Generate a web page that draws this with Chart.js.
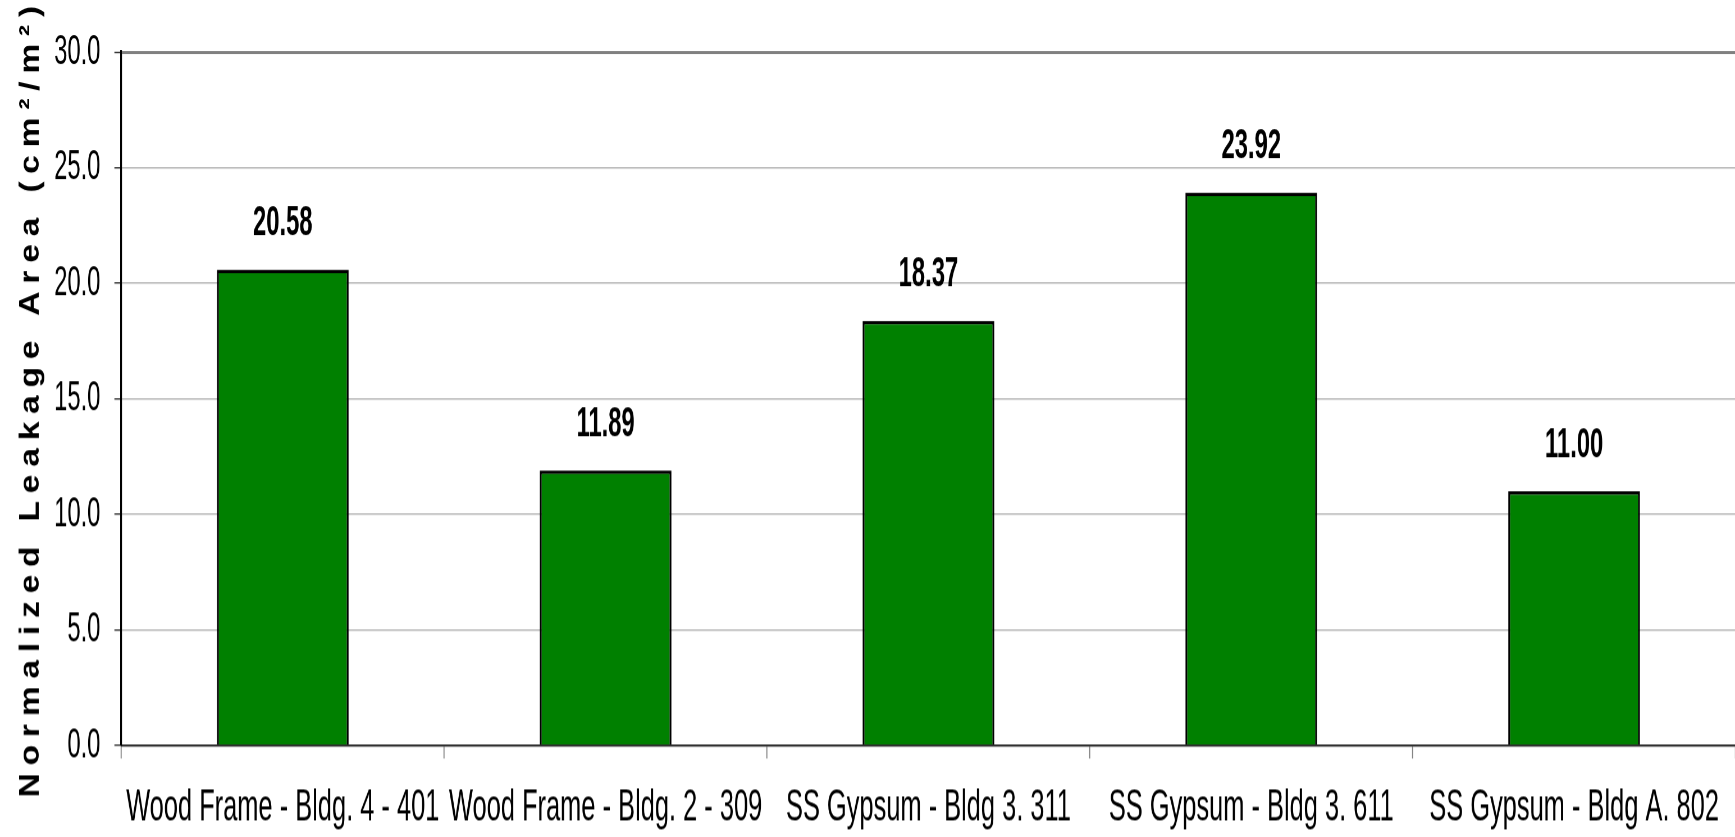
<!DOCTYPE html>
<html>
<head>
<meta charset="utf-8">
<script src="https://cdn.jsdelivr.net/npm/chart.js@4/dist/chart.umd.min.js"></script>
<style>
  html { margin: 0; padding: 0; overflow: hidden; background: #ffffff; }
  body { margin: 0; padding: 0; background: #ffffff; width: 1735px; height: 837px; overflow: hidden; }
  #wrap { width: 2116px; height: 587px; transform-origin: 0 0; transform: scale(0.819943, 1.460733); }
</style>
</head>
<body>
<div id="wrap"><canvas id="c" width="2116" height="587"></canvas></div>
<script>
const categories = [
  'Wood Frame - Bldg. 4 - 401',
  'Wood Frame - Bldg. 2 - 309',
  'SS Gypsum - Bldg 3. 311',
  'SS Gypsum - Bldg 3. 611',
  'SS Gypsum - Bldg A. 802'
];
const leakageValues = [20.58, 11.89, 18.37, 23.92, 11.00];
const yMin = 0;
const yMax = 30;
const yStep = 5;
const yTitle = 'Normalized Leakage Area (cm²/m²)';

const FAMILY = "'Liberation Sans', Arial, sans-serif";
const SX = 0.819943;

const valueLabels = {
  id: 'valueLabels',
  afterDatasetsDraw(chart) {
    const ctx = chart.ctx;
    const meta = chart.getDatasetMeta(0);
    ctx.save();
    ctx.font = "bold 29px " + FAMILY;
    ctx.fillStyle = '#000000';
    ctx.textAlign = 'center';
    ctx.textBaseline = 'alphabetic';
    meta.data.forEach((bar, i) => {
      ctx.fillText(leakageValues[i].toFixed(2), bar.x, bar.y - 23.5);
    });
    ctx.restore();
  }
};

const axisTitle = {
  id: 'axisTitle',
  afterDraw(chart) {
    const ctx = chart.ctx;
    const area = chart.chartArea;
    const cy = (area.top + area.bottom) / 2 + 2;
    ctx.save();
    ctx.translate(37.8, cy);
    ctx.rotate(-Math.PI / 2);
    ctx.scale(SX, 1 / SX);
    ctx.font = "bold 28px " + FAMILY;
    ctx.fillStyle = '#000000';
    ctx.textBaseline = 'middle';
    const spacing = 6.5;
    if ('letterSpacing' in ctx) {
      ctx.letterSpacing = spacing + 'px';
      ctx.textAlign = 'center';
      ctx.fillText(yTitle, spacing / 2, 0);
    } else {
      ctx.textAlign = 'left';
      const chars = Array.from(yTitle);
      let total = 0;
      chars.forEach(ch => { total += ctx.measureText(ch).width + spacing; });
      let x = -total / 2;
      chars.forEach(ch => { ctx.fillText(ch, x, 0); x += ctx.measureText(ch).width + spacing; });
    }
    ctx.restore();
  }
};

new Chart(document.getElementById('c'), {
  type: 'bar',
  data: {
    labels: categories,
    datasets: [{
      data: leakageValues,
      backgroundColor: '#008000',
      borderColor: '#000000',
      borderWidth: 2.4,
      borderSkipped: 'start',
      categoryPercentage: 1.0,
      barPercentage: 0.408
    }]
  },
  options: {
    responsive: false,
    animation: false,
    devicePixelRatio: 1.460733,
    layout: { padding: { top: 35.6, right: 0, bottom: 0, left: 49 } },
    plugins: { legend: { display: false }, tooltip: { enabled: false } },
    scales: {
      x: {
        offset: true,
        border: { display: true, color: '#303030', width: 1.5 },
        grid: { display: true, offset: true, drawOnChartArea: false, drawTicks: true, tickLength: 9, tickColor: '#808080', tickWidth: 1.3 },
        ticks: { color: '#000000', font: { family: FAMILY, size: 31 }, padding: 15.4, maxRotation: 0, minRotation: 0, autoSkip: false }
      },
      y: {
        min: yMin,
        max: yMax,
        border: { display: true, color: '#000000', width: 2.2 },
        grid: {
          color: (c) => (c.tick && c.tick.value === yMax) ? '#808080' : '#b4b4b4',
          lineWidth: (c) => (c.tick && c.tick.value === yMax) ? 2 : 1,
          tickLength: 8.5,
          tickColor: '#303030',
          tickWidth: 1
        },
        ticks: {
          stepSize: yStep,
          color: '#000000',
          font: { family: FAMILY, size: 29 },
          padding: 17,
          callback: (v) => Number(v).toFixed(1)
        }
      }
    }
  },
  plugins: [valueLabels, axisTitle]
});
</script>
</body>
</html>
